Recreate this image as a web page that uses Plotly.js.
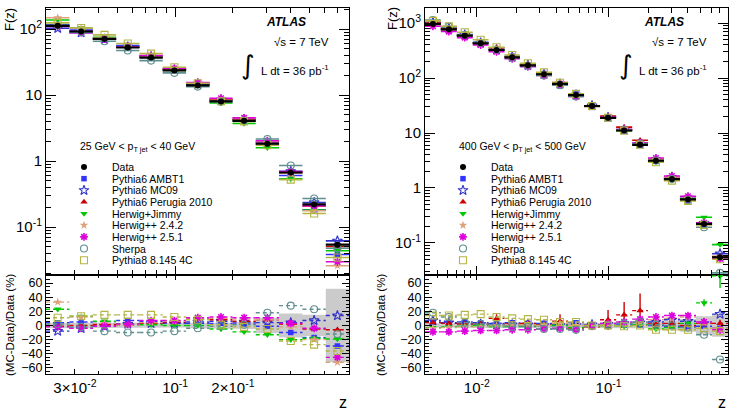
<!DOCTYPE html>
<html><head><meta charset="utf-8">
<script src="https://cdn.plot.ly/plotly-3.0.1.min.js"></script>
<style>html,body{margin:0;padding:0;background:#fff;}#chart{width:737px;height:415px;}</style>
</head><body><div id="chart"></div>
<script>
// ---------------- DATA ----------------
const seriesNames = ["Data","Pythia6 AMBT1","Pythia6 MC09","Pythia6 Perugia 2010","Herwig+Jimmy","Herwig++ 2.4.2","Herwig++ 2.5.1","Sherpa","Pythia8 8.145 4C"];
const panelLabels = ["25 GeV < p<sub>T jet</sub> < 40 GeV", "400 GeV < p<sub>T jet</sub> < 500 GeV"];

// Left panel: 25 GeV < pT jet < 40 GeV
const zEdgesLow = [0.0212,0.0281,0.0372,0.0492,0.0651,0.0861,0.114,0.151,0.199,0.263,0.348,0.461,0.610,0.806];
const dataLow   = [112,92,71,52.6,37,23.6,14,8.0,4.07,1.83,0.67,0.22,0.054];
const bandLow   = [4,3,3,3,3,3,4,4,5,11,17,15,52];
const ratioLowAMBT1   = [4,5,3,7,6,4,3,3,2,-1,-10,-17,-29];
const ratioLowMC09    = [-8,-4,-1,2,3,3,5,6,5,4,4,7,14];
const ratioLowPerugia = [-1,0,1,1,3,5,9,8,6,8,2,-5,-6];
const ratioLowJimmy   = [23,13,6,2,1,0,0,-5,-9,-13,-20,-18,-19];
const ratioLowHpp242  = [33,12,3,1,4,6,9,10,9,8,-2,-20,-52];
const ratioLowHpp251  = [-2,-4,-1,2,7,7,11,12,11,11,3,-4,-45];
const ratioLowSherpa  = [2,-2,-8,-10,-10,-8,-4,-1,1,18,28,23,-12];
const ratioLowPythia8 = [11,13,15,15,15,12,8,1,-2,-5,-22,-27,-36];

// Right panel: 400 GeV < pT jet < 500 GeV
const zEdgesHigh = [0.00404,0.00533,0.00705,0.00931,0.01227,0.01622,0.0212,0.0281,0.0372,0.0492,0.0651,0.0861,0.114,0.151,0.199,0.263,0.348,0.461,0.610,0.806];
const dataHigh   = [959,768,589,428,323,238,170,117,78,49,31,18.9,11.1,6.1,3.13,1.45,0.62,0.222,0.055];
const bandHigh   = [3,3,3,3,3,3,3,3,3,3,3,3,4,4,6,7,9,13,16];
const ratioHighAMBT1   = [5,3,5,4,3,4,3,3,2,4,1,3,2,1,0,-1,-2,-1,-4];
const ratioHighMC09    = [7,4,3,2,1,1,1,0,0,0,1,2,3,4,5,8,6,3,16];
const ratioHighPerugia = [4,3,2,2,10,2,3,1,6,-5,-2,8,15,21,2,3,0,3,3];
const ratioHighJimmy   = [-3,-2,-1,0,-2,-1,-1,0,0,-3,-1,0,-1,1,-5,-3,3,32,70];
const ratioHighHpp242  = [-4,-3,-2,-2,0,1,1,0,3,0,0,2,3,5,8,10,12,4,-4];
const ratioHighHpp251  = [-9,-9,-8,-7,-7,-6,-6,-5,-4,-6,0,3,5,9,12,14,14,5,-6];
const ratioHighSherpa  = [18,12,4,2,1,-2,-2,-5,-5,-6,-1,0,3,5,1,0,-3,-13,-48];
const ratioHighPythia8 = [14,14,15,16,12,10,9,8,5,5,0,0,-1,0,-6,-6,-6,-4,-8];
const errHighPerugia   = [2,2,2,2,6,2,2,2,10,2,2,14,18,24,3,3,3,4,5];
const errHighJimmy     = [1,1,1,1,1,1,1,1,1,1,1,1,1,1,2,2,3,5,17];

const xTickLowVals = [0.03,0.1,0.2];
const xTickLowText = ["3×10<sup>-2</sup>","10<sup>-1</sup>","2×10<sup>-1</sup>"];
const xTickHighVals = [0.01,0.1];
const xTickHighText = ["10<sup>-2</sup>","10<sup>-1</sup>"];
const yTickLowVals = [0.1,1,10,100];
const yTickLowText = ["10<sup>-1</sup>","1","10","10<sup>2</sup>"];
const yTickHighVals = [0.1,1,10,100,1000];
const yTickHighText = ["10<sup>-1</sup>","1","10","10<sup>2</sup>","10<sup>3</sup>"];
const ratioTickVals = [-60,-40,-20,0,20,40,60];

// ---------------- STYLE ----------------
const styles = [
  {c:'#000000', s:'circle', z:6, lw:0},
  {c:'#3333ff', s:'square', z:5.5, lw:0},
  {c:'#3333cc', s:'star-open', z:7.5, lw:1.1},
  {c:'#cc0000', s:'triangle-up', z:6.5, lw:0},
  {c:'#00c800', s:'triangle-down', z:6.5, lw:0},
  {c:'#dba27c', s:'star', z:6.5, lw:0},
  {c:'#dd00dd', s:'asterisk-open', z:6.5, lw:1.6},
  {c:'#5f8f8f', s:'circle-open', z:7, lw:1.1},
  {c:'#b5b545', s:'square-open', z:7, lw:1.1}
];
const FONT = 'Liberation Sans, Arial, sans-serif';
const W = 737, H = 415;

function centers(e){const c=[];for(let i=0;i<e.length-1;i++)c.push(Math.sqrt(e[i]*e[i+1]));return c;}

const traces = [];
function addPanel(edges, data, band, ratios, errs, xa, ya, xr, yr){
  const zc = centers(edges);
  const lo = zc.map((c,i)=>c-edges[i]);
  const hi = zc.map((c,i)=>edges[i+1]-c);
  ratios.forEach((r,k)=>{
    const st = styles[k+1];
    traces.push({type:'scatter',mode:'markers',xaxis:xa,yaxis:ya,x:zc,
      y:data.map((d,i)=>d*(1+r[i]/100)),
      marker:{symbol:st.s,color:st.c,size:st.z,line:{color:st.c,width:st.lw}},
      error_x:{type:'data',symmetric:false,array:hi,arrayminus:lo,color:st.c,thickness:1.6,width:0},
      showlegend:false,hoverinfo:'skip'});
  });
  traces.push({type:'scatter',mode:'markers',xaxis:xa,yaxis:ya,x:zc,y:data,
    marker:{symbol:'circle',color:'#000',size:6},
    error_x:{type:'data',symmetric:false,array:hi,arrayminus:lo,color:'#000',thickness:2.2,width:0},
    showlegend:false,hoverinfo:'skip'});
  const bx=[],by=[];
  for(let i=0;i<zc.length;i++){bx.push(edges[i],edges[i+1]);by.push(band[i],band[i]);}
  for(let i=zc.length-1;i>=0;i--){bx.push(edges[i+1],edges[i]);by.push(-band[i],-band[i]);}
  traces.push({type:'scatter',mode:'lines',xaxis:xr,yaxis:yr,x:bx,y:by,fill:'toself',
    fillcolor:'#cbcbcb',line:{width:0,color:'#cbcbcb'},showlegend:false,hoverinfo:'skip'});
  ratios.forEach((r,k)=>{
    const st = styles[k+1];
    const lx=[],ly=[];
    for(let i=0;i<zc.length;i++){lx.push(edges[i],edges[i+1],null);ly.push(r[i],r[i],null);}
    traces.push({type:'scatter',mode:'lines',xaxis:xr,yaxis:yr,x:lx,y:ly,
      line:{color:st.c,width:1.4,dash:'4px,3px'},showlegend:false,hoverinfo:'skip'});
    const tr = {type:'scatter',mode:'markers',xaxis:xr,yaxis:yr,x:zc,y:r,
      marker:{symbol:st.s,color:st.c,size:st.z,line:{color:st.c,width:st.lw}},
      showlegend:false,hoverinfo:'skip'};
    if(errs && errs[k]) tr.error_y={type:'data',array:errs[k],color:st.c,thickness:1.4,width:0};
    traces.push(tr);
  });
}

addPanel(zEdgesLow, dataLow, bandLow,
  [ratioLowAMBT1,ratioLowMC09,ratioLowPerugia,ratioLowJimmy,ratioLowHpp242,ratioLowHpp251,ratioLowSherpa,ratioLowPythia8],
  null,'x','y','x2','y2');
addPanel(zEdgesHigh, dataHigh, bandHigh,
  [ratioHighAMBT1,ratioHighMC09,ratioHighPerugia,ratioHighJimmy,ratioHighHpp242,ratioHighHpp251,ratioHighSherpa,ratioHighPythia8],
  [null,null,errHighPerugia,errHighJimmy,null,null,null,null],'x3','y3','x4','y4');

// legend swatches on overlay pixel axes
const legendX = [84, 463], legendTextX = [110, 489];
const annotations = [];
for(let p=0;p<2;p++){
  seriesNames.forEach((n,i)=>{
    const st = styles[i];
    const yy = 167 + i*11.65;
    traces.push({type:'scatter',mode:'markers',xaxis:'x5',yaxis:'y5',x:[legendX[p]],y:[yy],
      marker:{symbol:st.s,color:st.c,size:st.z,line:{color:st.c,width:st.lw}},showlegend:false,hoverinfo:'skip'});
    annotations.push({xref:'x5',yref:'y5',x:legendTextX[p],y:yy,text:n,showarrow:false,xanchor:'left',yanchor:'middle',
      font:{family:FONT,size:10.5,color:'#000'}});
  });
}
[[78,panelLabels[0]],[457,panelLabels[1]]].forEach(b=>annotations.push({xref:'x5',yref:'y5',x:b[0],y:147,text:b[1],showarrow:false,xanchor:'left',yanchor:'middle',font:{family:FONT,size:10.5,color:'#000'}}));
const atlasRight = [331, 709];
atlasRight.forEach(xr=>{
  annotations.push({xref:'x5',yref:'y5',x:xr-23,y:22,text:'<b><i>ATLAS</i></b>',showarrow:false,xanchor:'right',yanchor:'middle',font:{family:FONT,size:12,color:'#000'}});
  annotations.push({xref:'x5',yref:'y5',x:xr,y:42,text:'√s = 7 TeV',showarrow:false,xanchor:'right',yanchor:'middle',font:{family:FONT,size:11.5,color:'#000'}});
  annotations.push({xref:'x5',yref:'y5',x:xr,y:70,text:'L dt = 36 pb<sup>-1</sup>',showarrow:false,xanchor:'right',yanchor:'middle',font:{family:FONT,size:11.5,color:'#000'}});
  annotations.push({xref:'x5',yref:'y5',x:xr-83,y:65,text:'∫',showarrow:false,xanchor:'center',yanchor:'middle',font:{family:'DejaVu Sans',size:26,color:'#000'}});
});
[[9,20],[392,19]].forEach(p=>annotations.push({xref:'x5',yref:'y5',x:p[0],y:p[1],text:'F(z)',textangle:-90,showarrow:false,xanchor:'center',yanchor:'middle',font:{family:FONT,size:13,color:'#000'}}));
[[10,325],[381,325]].forEach(p=>annotations.push({xref:'x5',yref:'y5',x:p[0],y:p[1],text:'(MC-Data)/Data (%)',textangle:-90,showarrow:false,xanchor:'center',yanchor:'middle',font:{family:FONT,size:11.5,color:'#000'}}));
[[343,402],[722,402]].forEach(p=>annotations.push({xref:'x5',yref:'y5',x:p[0],y:p[1],text:'z',showarrow:false,xanchor:'center',yanchor:'middle',font:{family:FONT,size:16,color:'#000'}}));

// ---------------- AXES ----------------
function logMinor(lo,hi,skip){const v=[];for(let k=lo;k<=hi;k++)for(let d=2;d<=9;d++){const t=+(d*Math.pow(10,k)).toPrecision(3);if(!skip.some(s=>Math.abs(s-t)<1e-9))v.push(t);}return v;}
const px2dom = (a,b)=>[a/W,b/W];
const py2dom = (top,bot)=>[1-bot/H,1-top/H];
const domLeft = px2dom(46,349), domRight = px2dom(425,728);
const domTop = py2dom(8,274.5), domRat = py2dom(274.5,374);
const base = {showline:true,linecolor:'#000',linewidth:1,mirror:'ticks',ticks:'inside',tickcolor:'#000',
  showgrid:false,zeroline:false,fixedrange:true};
function xTop(dom,anchor,edges,major){return Object.assign({},base,{domain:dom,anchor:anchor,type:'log',
  range:[Math.log10(edges[0]),Math.log10(edges[edges.length-1])],tickmode:'array',tickvals:major,showticklabels:false,ticklen:9,
  minor:{ticks:'inside',ticklen:4.5,tickcolor:'#000',tickmode:'array',tickvals:logMinor(-3,-1,major)}});}
function xRat(dom,anchor,edges,major,text){return Object.assign({},base,{domain:dom,anchor:anchor,type:'log',
  range:[Math.log10(edges[0]),Math.log10(edges[edges.length-1])],tickmode:'array',tickvals:major,ticktext:text,ticklen:5,
  tickfont:{family:FONT,size:15,color:'#000'},
  minor:{ticks:'inside',ticklen:3,tickcolor:'#000',tickmode:'array',tickvals:logMinor(-3,-1,major)}});}
function yTop(dom,anchor,range,vals,text){return Object.assign({},base,{domain:dom,anchor:anchor,type:'log',range:range,
  tickmode:'array',tickvals:vals,ticktext:text,ticklen:10,tickfont:{family:FONT,size:15,color:'#000'},
  minor:{ticks:'inside',ticklen:5,tickcolor:'#000',tickmode:'array',tickvals:logMinor(-3,3,[])}});}
function yRat(dom,anchor){const mv=[];for(let v=-65;v<=70;v+=5)if(v%20!==0)mv.push(v);
  return Object.assign({},base,{domain:dom,anchor:anchor,range:[-68.5,72],tickmode:'array',tickvals:ratioTickVals,
  ticklen:7,tickfont:{family:FONT,size:12.5,color:'#000'},
  minor:{ticks:'inside',ticklen:3.5,tickcolor:'#000',tickmode:'array',tickvals:mv}});}

const layout = {
  width:W,height:H,margin:{l:0,r:0,t:0,b:0},paper_bgcolor:'#fff',plot_bgcolor:'rgba(0,0,0,0)',
  showlegend:false,font:{family:FONT,color:'#000'},
  xaxis:xTop(domLeft,'y',zEdgesLow,[0.1]),
  yaxis:yTop(domTop,'x',[-1.72,2.32],yTickLowVals,yTickLowText),
  xaxis2:xRat(domLeft,'y2',zEdgesLow,xTickLowVals,xTickLowText),
  yaxis2:yRat(domRat,'x2'),
  xaxis3:xTop(domRight,'y3',zEdgesHigh,[0.01,0.1]),
  yaxis3:yTop(domTop,'x3',[-1.573,3.273],yTickHighVals,yTickHighText),
  xaxis4:xRat(domRight,'y4',zEdgesHigh,xTickHighVals,xTickHighText),
  yaxis4:yRat(domRat,'x4'),
  xaxis5:{domain:[0,1],anchor:'y5',range:[0,W],visible:false,fixedrange:true},
  yaxis5:{domain:[0,1],anchor:'x5',range:[H,0],visible:false,fixedrange:true},
  annotations:annotations
};
Plotly.newPlot('chart',traces,layout,{staticPlot:true,displayModeBar:false});
</script></body></html>
